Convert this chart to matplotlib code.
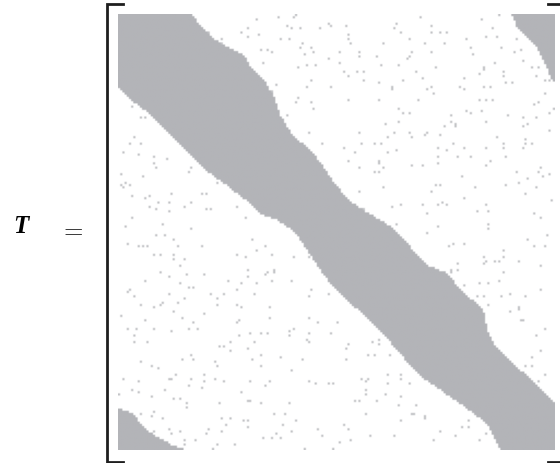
import numpy as np
import matplotlib
matplotlib.use("Agg")
import matplotlib.pyplot as plt
from matplotlib.lines import Line2D
from matplotlib.path import Path
from matplotlib.colors import to_rgb

# Matrix is 200 x 200, entries given as (column, row) indices
N = 200

# right edge of the diagonal band (col, row)
band_upper_cols = [34, 36, 39, 42, 48, 52, 56, 59, 60, 64, 66, 68, 72, 74, 80, 89, 98, 105, 114, 124,
                   127, 134, 141, 151, 157, 167, 169, 173, 181, 190, 195, 200]
band_upper_rows = [0, 3, 7, 10, 14, 16, 18, 21, 24, 28, 30, 32, 39, 46, 56, 63, 76, 85, 91, 97,
                   100, 107, 115, 119, 127, 135, 145, 153, 161, 168, 174, 178]
# left edge of the diagonal band (col, row)
band_lower_cols = [0, 4, 8, 15, 19, 25, 31, 38, 42, 49, 58, 66, 72, 81, 91, 96, 109, 120, 131, 141,
                   157, 169, 175]
band_lower_rows = [33, 37, 41, 46, 50, 57, 62, 69, 73, 78, 85, 92, 94, 100, 115, 122, 135, 145, 158, 168,
                   179, 188, 200]

# wrap-around corners
corner_tr_cols = [180, 183, 187, 192, 195, 199, 200, 200]
corner_tr_rows = [0, 7, 11, 16, 22, 31, 31, 0]
corner_bl_cols = [0, 7, 10, 13, 18, 22, 25, 31, 0]
corner_bl_rows = [181, 183, 188, 191, 194, 196, 198, 200, 200]

# scattered nonzeros (col, row)
scattered = [
    # upper triangle, top-left part
    (41, 8), (47, 11), (47, 13), (56, 8), (59, 6), (59, 10), (63, 2), (64, 9), (65, 16), (68, 16),
    (70, 17), (66, 22), (72, 32), (70, 35), (73, 1),
    (80, 1), (81, 0), (77, 5), (79, 6), (83, 6), (92, 6), (96, 4), (97, 5), (104, 5), (126, 6),
    (127, 4), (129, 8), (138, 1), (143, 5), (143, 8), (147, 8), (150, 8), (149, 13), (166, 2),
    (174, 0), (171, 6), (168, 10), (173, 10), (159, 11), (175, 15), (181, 17), (184, 16), (182, 11),
    (185, 21), (74, 11), (78, 11), (84, 13), (83, 15), (88, 15), (85, 18), (89, 17), (105, 9),
    (105, 11), (106, 13), (121, 13), (133, 11), (140, 13), (110, 17), (110, 19), (101, 17),
    (101, 22), (96, 20), (118, 19), (132, 20), (133, 19), (134, 17), (143, 17), (161, 15),
    (162, 18), (82, 24), (86, 23), (90, 23), (103, 26), (105, 28), (109, 26), (112, 26), (120, 23),
    (128, 23), (136, 26), (145, 24), (167, 24), (167, 25), (165, 27), (172, 22), (176, 26),
    (176, 28), (189, 24), (192, 24), (88, 30), (112, 30), (119, 31), (125, 33), (125, 34),
    (139, 29), (143, 33), (141, 34), (144, 36), (130, 30), (156, 33), (158, 34), (158, 29),
    (167, 33), (170, 33), (177, 31), (180, 31), (191, 28), (195, 30), (197, 30), (195, 36),
    (86, 33), (97, 33), (82, 38), (81, 40), (88, 40), (89, 43), (105, 39), (119, 39), (137, 39),
    (165, 39), (168, 39), (171, 39), (190, 41), (192, 40), (199, 43), (77, 46), (128, 43),
    (128, 49), (130, 45), (133, 45), (152, 46), (152, 49), (154, 50), (154, 51), (149, 51),
    (159, 44), (161, 45), (166, 44), (168, 49), (178, 46), (185, 47), (187, 50), (185, 51),
    (191, 47), (197, 45), (122, 50), (87, 54), (93, 59), (110, 54), (111, 59), (123, 56),
    (126, 54), (133, 54), (134, 56), (140, 55), (141, 54), (147, 55), (173, 56), (197, 53),
    (117, 59), (120, 59), (146, 61), (153, 59), (158, 61), (168, 61), (176, 59), (176, 61),
    (186, 57), (186, 59), (189, 59), (185, 61), (103, 61), (108, 63), (127, 62), (123, 63),
    (150, 62), (146, 65), (146, 68), (155, 65), (161, 65), (177, 65), (168, 69), (170, 67),
    (105, 67), (110, 70), (119, 67), (119, 68), (117, 72), (119, 72), (121, 70), (134, 69),
    (139, 69), (193, 70), (192, 72), (194, 74), (197, 73), (182, 72), (187, 75), (183, 77),
    (157, 74), (145, 78), (147, 78), (143, 81), (163, 79), (177, 78), (191, 79), (186, 82),
    (110, 81), (121, 79), (158, 84), (198, 85), (112, 89), (125, 88), (129, 87), (139, 87),
    (146, 87), (148, 86), (150, 87), (168, 87), (164, 90), (169, 90), (141, 91), (190, 91),
    (193, 93), (127, 96), (146, 97), (169, 96), (169, 98),
    # upper triangle, lower-right part
    (141, 100), (151, 106), (153, 105), (158, 105), (187, 103), (190, 106), (195, 106), (196, 101),
    (176, 108), (176, 111), (167, 111), (168, 113), (167, 114), (172, 113), (174, 113), (155, 114),
    (155, 117), (152, 117), (152, 118), (151, 120), (183, 113), (193, 115), (176, 118), (158, 124),
    (165, 123), (169, 123), (174, 122), (193, 126), (164, 129), (167, 129), (175, 129), (179, 128),
    (186, 129), (169, 133), (183, 134), (183, 135), (179, 136), (184, 140), (185, 140), (195, 144),
    (191, 147), (193, 154), (189, 157), (186, 161), (189, 161), (195, 165), (192, 168),
    # lower triangle, left part
    (6, 42), (10, 47), (12, 47), (7, 56), (5, 59), (10, 59), (2, 63), (9, 64), (16, 65), (16, 68),
    (22, 66), (17, 70), (33, 70), (32, 72), (1, 73), (11, 74), (1, 78), (3, 77), (5, 78), (2, 79),
    (6, 83), (12, 84), (14, 83), (24, 82), (38, 82), (40, 82), (18, 86), (23, 86), (14, 88),
    (17, 89), (30, 88), (33, 86), (40, 89), (42, 89), (23, 90), (45, 77), (54, 88), (58, 93),
    (6, 93), (3, 97), (20, 96), (33, 98),
    (17, 101), (21, 101), (4, 105), (9, 106), (11, 106), (13, 106), (25, 103), (27, 106), (38, 106),
    (16, 110), (19, 110), (25, 110), (25, 112), (30, 112), (28, 115), (19, 118), (23, 120),
    (31, 119), (39, 119), (12, 122), (28, 123), (32, 125), (34, 125), (4, 127), (5, 126), (7, 129),
    (23, 128), (30, 130), (10, 133), (16, 134), (19, 133), (20, 132), (27, 132), (25, 136),
    (39, 137), (1, 138), (12, 140), (29, 139), (34, 141), (32, 144), (4, 144), (8, 144), (16, 144),
    (24, 145), (36, 144), (7, 147), (7, 150), (13, 150), (33, 156), (29, 158), (34, 158), (10, 159),
    (15, 161), (18, 162), (26, 165), (23, 167), (24, 167), (2, 167), (9, 168), (33, 167), (32, 170),
    (39, 165), (39, 168), (38, 171), (6, 172), (9, 173), (21, 172), (0, 174), (15, 175), (25, 176),
    (28, 176), (31, 178), (31, 180), (16, 182), (10, 183), (15, 184), (20, 185), (23, 190),
    (24, 192), (28, 191), (16, 191), (30, 195), (30, 197), (35, 195), (41, 190), (40, 192),
    (43, 199), (45, 197), (53, 197), (47, 191), (46, 178), (47, 185), (49, 188), (51, 185),
    (56, 173), (59, 177), (60, 177), (65, 178), (57, 186), (59, 186), (59, 189), (71, 183),
    (66, 194), (70, 194), (72, 192), (74, 194), (42, 128), (45, 130), (45, 133), (48, 128),
    (50, 122), (54, 126), (56, 123), (62, 128), (63, 123), (54, 110), (58, 111), (61, 103),
    (67, 106), (63, 108), (70, 110), (59, 117), (59, 120), (67, 119), (68, 118), (71, 117),
    (71, 118), (70, 122), (54, 133), (56, 134), (54, 141), (55, 140), (69, 134), (69, 139),
    (55, 147), (60, 146), (65, 146), (68, 146), (51, 150), (62, 150), (46, 152), (48, 152),
    (51, 154), (59, 153), (65, 156), (61, 158), (74, 157), (44, 159), (45, 161), (65, 161),
    (44, 167), (48, 168), (60, 168), (69, 168), (67, 170),
    # lower triangle, right part
    (80, 111), (87, 111), (79, 122), (88, 126), (96, 128), (87, 129), (87, 139), (91, 141),
    (100, 141), (80, 144), (78, 145), (78, 147), (87, 146), (87, 150), (86, 149), (97, 146),
    (105, 151), (104, 153), (116, 150), (119, 149), (119, 151), (84, 158), (104, 158), (114, 156),
    (117, 156), (124, 156), (79, 163), (123, 165), (129, 165), (129, 167), (87, 168), (90, 169),
    (96, 169), (98, 169), (111, 167), (113, 168), (114, 167), (123, 169), (133, 169), (113, 172),
    (113, 174), (122, 174), (108, 177), (110, 177), (118, 177), (129, 175), (78, 178), (128, 179),
    (136, 179), (76, 183), (113, 183), (134, 183), (135, 183), (140, 184), (140, 185), (81, 186),
    (75, 188), (103, 188), (129, 186), (91, 190), (105, 190), (79, 191), (93, 193), (115, 193),
    (126, 193), (147, 191), (154, 193), (157, 189), (160, 189), (160, 186), (165, 195), (168, 192),
    (101, 196), (106, 195), (144, 195), (85, 199), (98, 199),
]
nz_cols = np.array([p[0] for p in scattered])
nz_rows = np.array([p[1] for p in scattered])

gray = '#b3b4b8'
dot_gray = '#c2c3c6'

# build the sparsity pattern: band cells from the traced outlines, plus the scattered entries
poly_cols = [0] + band_upper_cols + [N] + band_lower_cols[::-1]
poly_rows = [0] + band_upper_rows + [N] + band_lower_rows[::-1]
cc, rr = np.meshgrid(np.arange(N) + 0.5, np.arange(N) + 0.5)
centers = np.column_stack([cc.ravel(), rr.ravel()])
band = np.zeros(N * N, dtype=bool)
for pc, pr in [(poly_cols, poly_rows), (corner_tr_cols, corner_tr_rows), (corner_bl_cols, corner_bl_rows)]:
    band |= Path(np.column_stack([pc, pr])).contains_points(centers)
band = band.reshape(N, N)

img = np.ones((N, N, 3))
img[np.clip(nz_rows, 0, N - 1), np.clip(nz_cols, 0, N - 1)] = to_rgb(dot_gray)
img[band] = to_rgb(gray)

fig = plt.figure(figsize=(5.6, 4.64), dpi=100)
fig.patch.set_facecolor('white')

# matrix axes
ax = fig.add_axes([118/560, 13/464, 437/560, 436/464])
ax.imshow(img, extent=(0, N, N, 0), interpolation='antialiased', aspect='auto')
ax.set_xlim(0, N)
ax.set_ylim(N, 0)
ax.axis('off')

# brackets drawn in figure pixel coords
def px(x, y):
    return x/560, 1 - y/464

lx = [px(123, 5)[0], px(107, 5)[0], px(107, 463)[0], px(123, 463)[0]]
ly = [px(123, 5)[1], px(107, 5)[1], px(107, 463)[1], px(123, 463)[1]]
fig.add_artist(Line2D(lx, ly, color='#1e1e1e', lw=2.0, solid_joinstyle='miter'))
rx = [px(548, 5)[0], px(562, 5)[0], px(562, 463)[0], px(548, 463)[0]]
fig.add_artist(Line2D(rx, ly, color='#1e1e1e', lw=2.0, solid_joinstyle='miter'))

# label
fig.text(*px(21, 227), 'T', family='Liberation Serif', weight='bold', style='italic',
         fontsize=18, ha='center', va='center')
fig.text(*px(71, 229), '$=$', fontsize=18, ha='center', va='center',
         math_fontfamily='cm')

fig.savefig('out.png', dpi=100, facecolor='white')
